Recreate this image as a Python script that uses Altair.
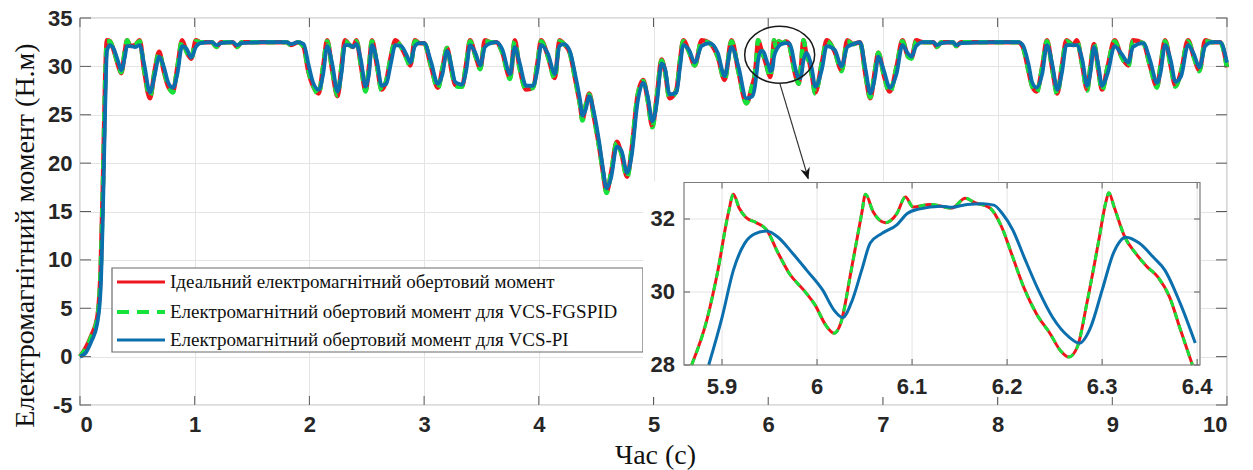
import altair as alt
import pandas as pd

# ---------------- data ----------------
t_main = [
    0.00, 0.05, 0.10, 0.15, 0.18, 0.20, 0.22, 0.235, 0.26, 0.29,
    0.33, 0.36, 0.39, 0.41, 0.44, 0.48, 0.52, 0.56, 0.61, 0.65,
    0.69, 0.73, 0.77, 0.81, 0.85, 0.89, 0.93, 0.97, 1.01, 1.05,
    1.15, 1.19, 1.23, 1.33, 1.37, 1.41, 1.60, 1.80, 1.84, 1.90,
    1.95, 1.99, 2.03, 2.08, 2.12, 2.155, 2.20, 2.245, 2.28, 2.31,
    2.35, 2.38, 2.41, 2.45, 2.49, 2.52, 2.545, 2.59, 2.63, 2.67,
    2.71, 2.75, 2.80, 2.85, 2.88, 2.92, 2.96, 3.00, 3.06, 3.12,
    3.16, 3.20, 3.24, 3.27, 3.30, 3.33, 3.37, 3.40, 3.45, 3.49,
    3.53, 3.58, 3.63, 3.68, 3.75, 3.79, 3.83, 3.89, 3.95, 3.99,
    4.02, 4.08, 4.14, 4.18, 4.22, 4.27, 4.32, 4.36, 4.38, 4.41,
    4.44, 4.48, 4.53, 4.56, 4.59, 4.63, 4.68, 4.72, 4.77, 4.81,
    4.86, 4.91, 4.95, 4.99, 5.03, 5.07, 5.10, 5.14, 5.20, 5.23,
    5.26, 5.31, 5.36, 5.42, 5.49, 5.56, 5.62, 5.68, 5.74, 5.81,
    5.86, 5.884, 5.895, 5.912, 5.936, 5.959, 5.986, 6.009, 6.018, 6.036,
    6.051, 6.072, 6.093, 6.119, 6.156, 6.182, 6.206, 6.231, 6.256, 6.265,
    6.284, 6.307, 6.335, 6.359, 6.382, 6.41, 6.47, 6.51, 6.58, 6.64,
    6.69, 6.74, 6.80, 6.85, 6.89, 6.93, 6.96, 7.01, 7.06, 7.12,
    7.17, 7.22, 7.25, 7.29, 7.35, 7.44, 7.47, 7.51, 7.61, 7.64,
    7.68, 8.00, 8.18, 8.22, 8.27, 8.30, 8.34, 8.39, 8.43, 8.48,
    8.52, 8.56, 8.60, 8.66, 8.69, 8.74, 8.78, 8.81, 8.84, 8.88,
    8.91, 8.96, 9.02, 9.08, 9.14, 9.18, 9.27, 9.33, 9.39, 9.42,
    9.46, 9.51, 9.55, 9.60, 9.66, 9.71, 9.76, 9.81, 9.87, 9.94,
    10.0,
]
ideal_main = [
    0.0, 0.9, 2.2, 4.0, 9.0, 18.0, 29.0, 32.7, 32.6, 31.8,
    30.2, 29.3, 31.5, 32.7, 32.1, 32.2, 32.7, 29.5, 26.7, 29.5,
    31.5, 29.5, 27.9, 27.4, 30.0, 32.7, 31.5, 30.8, 32.7, 32.5,
    32.5, 32.0, 32.5, 32.5, 32.0, 32.5, 32.5, 32.5, 32.2, 32.5,
    32.0, 29.5, 28.0, 27.2, 30.0, 32.7, 29.5, 26.9, 30.0, 32.7,
    32.2, 32.0, 32.7, 30.0, 27.5, 30.0, 32.7, 30.0, 27.6, 28.5,
    31.0, 32.7, 32.0, 30.8, 30.1, 32.7, 32.4, 32.4, 30.0, 27.8,
    29.8, 31.9, 29.5, 28.1, 28.0, 27.9, 30.5, 32.7, 31.0, 29.8,
    32.7, 32.5, 32.5, 31.5, 28.8, 32.7, 30.0, 27.6, 27.8, 30.5,
    32.7, 31.0, 28.8, 32.7, 32.3, 31.4, 28.5, 26.0, 24.5, 26.0,
    27.2, 24.8, 21.4, 19.0, 17.0, 19.0, 22.2, 21.0, 18.6, 21.5,
    26.9, 28.6, 26.5, 23.8, 27.0, 30.7, 29.5, 26.7, 27.6, 30.5,
    32.7, 31.5, 30.1, 32.7, 32.4, 31.0, 28.6, 32.7, 29.5, 26.2,
    28.0, 29.2, 30.5, 32.7, 31.9, 31.1, 30.05, 29.1, 28.9, 30.6,
    32.7, 31.9, 32.6, 32.4, 32.57, 32.3, 30.95, 29.4, 28.4, 28.2,
    29.7, 32.7, 31.1, 30.4, 29.0, 27.3, 30.5, 32.7, 31.5, 29.6,
    32.7, 32.3, 32.5, 29.0, 26.7, 29.5, 31.4, 29.0, 27.4, 30.0,
    32.7, 31.0, 30.9, 32.7, 32.5, 32.5, 32.0, 32.5, 32.5, 32.1,
    32.5, 32.5, 32.5, 32.0, 29.5, 28.0, 27.4, 30.0, 32.7, 29.5,
    27.2, 30.0, 32.7, 32.2, 32.7, 30.0, 27.6, 30.0, 32.3, 29.5,
    27.6, 30.0, 32.7, 31.0, 30.1, 32.7, 32.4, 30.0, 27.9, 30.0,
    32.7, 30.0, 28.0, 29.5, 32.7, 31.0, 29.6, 32.7, 32.5, 32.5,
    29.9,
]
fgspid_main = [
    0.0, 0.8, 2.1, 3.9, 8.8, 17.6, 28.6, 32.6, 32.6, 31.8,
    30.3, 29.4, 31.5, 32.7, 32.1, 32.2, 32.6, 29.6, 26.9, 29.4,
    31.4, 29.6, 28.0, 27.3, 30.0, 32.6, 31.5, 30.8, 32.6, 32.5,
    32.5, 32.0, 32.5, 32.5, 32.0, 32.5, 32.5, 32.5, 32.2, 32.5,
    32.0, 29.6, 28.1, 27.1, 30.0, 32.6, 29.6, 27.0, 30.0, 32.6,
    32.2, 32.0, 32.6, 30.1, 27.4, 30.0, 32.6, 30.1, 27.5, 28.5,
    31.0, 32.6, 32.0, 30.7, 30.0, 32.6, 32.4, 32.4, 30.1, 27.7,
    29.8, 31.9, 29.6, 28.0, 27.9, 27.9, 30.5, 32.6, 31.0, 29.7,
    32.6, 32.5, 32.5, 31.5, 28.7, 32.6, 30.0, 27.6, 27.8, 30.5,
    32.6, 31.0, 28.7, 32.6, 32.3, 31.4, 28.5, 26.0, 24.4, 26.0,
    27.1, 24.8, 21.4, 19.0, 16.9, 19.0, 22.1, 21.0, 18.5, 21.5,
    26.9, 28.5, 26.5, 23.7, 27.0, 30.6, 29.5, 26.7, 27.5, 30.5,
    32.6, 31.5, 30.1, 32.6, 32.4, 31.0, 28.6, 32.6, 29.5, 26.2,
    28.0, 29.2, 30.5, 32.7, 31.9, 31.1, 30.05, 29.1, 28.9, 30.6,
    32.7, 31.9, 32.6, 32.4, 32.57, 32.3, 30.95, 29.4, 28.4, 28.2,
    29.7, 32.7, 31.1, 30.4, 29.0, 27.2, 30.5, 32.6, 31.5, 29.5,
    32.6, 32.3, 32.5, 29.0, 26.8, 29.5, 31.4, 29.0, 27.3, 30.0,
    32.6, 31.0, 30.8, 32.6, 32.5, 32.5, 32.0, 32.5, 32.5, 32.1,
    32.5, 32.5, 32.5, 32.0, 29.5, 28.0, 27.3, 30.0, 32.6, 29.5,
    27.1, 30.0, 32.6, 32.2, 32.6, 30.0, 27.5, 30.0, 32.3, 29.5,
    27.5, 30.0, 32.6, 31.0, 30.0, 32.6, 32.4, 30.0, 27.8, 30.0,
    32.6, 30.0, 27.9, 29.5, 32.6, 31.0, 29.5, 32.6, 32.5, 32.5,
    29.8,
]
pi_main = [
    0.0, 0.4, 1.6, 3.4, 7.0, 15.0, 26.0, 31.6, 32.2, 31.9,
    30.6, 29.6, 30.9, 32.1, 32.1, 32.0, 32.2, 30.2, 27.3, 29.0,
    31.0, 30.0, 28.3, 27.8, 29.3, 32.1, 31.8, 30.9, 32.0, 32.4,
    32.5, 32.2, 32.4, 32.5, 32.2, 32.4, 32.5, 32.5, 32.3, 32.5,
    32.3, 30.3, 28.4, 27.6, 29.2, 32.1, 30.2, 27.4, 29.3, 32.2,
    32.2, 32.0, 32.3, 30.6, 27.9, 29.3, 32.2, 30.5, 28.0, 28.2,
    30.3, 32.2, 32.1, 31.1, 30.4, 32.1, 32.4, 32.4, 30.5, 28.2,
    29.2, 31.6, 30.0, 28.4, 28.2, 28.1, 29.8, 32.2, 31.3, 30.1,
    32.0, 32.4, 32.5, 31.8, 29.2, 32.0, 30.5, 28.0, 28.0, 29.8,
    32.2, 31.3, 29.2, 32.1, 32.3, 31.6, 29.0, 26.5, 24.9, 25.6,
    26.9, 25.3, 21.9, 19.4, 17.4, 18.5, 21.7, 21.3, 19.0, 20.8,
    26.2, 28.3, 26.9, 24.3, 26.3, 30.3, 29.8, 27.1, 27.3, 29.8,
    32.2, 31.7, 30.4, 32.1, 32.4, 31.4, 29.0, 32.0, 30.0, 26.7,
    26.9, 27.9, 28.9, 30.6, 31.6, 31.5, 30.6, 29.9, 29.5, 29.7,
    31.0, 31.7, 32.1, 32.33, 32.4, 32.4, 31.7, 30.1, 29.0, 28.77,
    28.8, 30.6, 31.4, 30.8, 29.7, 27.9, 29.8, 32.1, 31.7, 30.0,
    32.0, 32.3, 32.5, 29.6, 27.2, 28.8, 31.0, 29.5, 27.8, 29.3,
    32.2, 31.3, 31.0, 32.1, 32.5, 32.5, 32.2, 32.4, 32.5, 32.2,
    32.4, 32.5, 32.5, 32.2, 30.2, 28.4, 27.8, 29.3, 32.2, 30.0,
    27.6, 29.3, 32.2, 32.2, 32.2, 30.6, 28.0, 29.4, 32.0, 30.0,
    28.0, 29.3, 32.1, 31.3, 30.4, 32.0, 32.4, 30.6, 28.3, 29.3,
    32.2, 30.6, 28.4, 29.0, 32.2, 31.3, 29.9, 32.1, 32.5, 32.5,
    30.4,
]

# zoomed window 5.86 .. 6.40 s
t_zoom = [
    5.868, 5.884, 5.895, 5.907, 5.912, 5.918, 5.925, 5.936, 5.947, 5.959,
    5.971, 5.986, 5.998, 6.009, 6.018, 6.025, 6.036, 6.047, 6.051, 6.059,
    6.072, 6.084, 6.093, 6.101, 6.119, 6.142, 6.156, 6.166, 6.182, 6.194,
    6.206, 6.218, 6.231, 6.245, 6.256, 6.265, 6.274, 6.284, 6.296, 6.304,
    6.307, 6.313, 6.324, 6.335, 6.347, 6.359, 6.371, 6.382, 6.395,
]
ideal_zoom = [
    28.0, 29.23, 30.5, 32.2, 32.68, 32.3, 32.05, 31.9, 31.7, 31.07,
    30.5, 30.05, 29.64, 29.1, 28.87, 29.15, 30.6, 32.15, 32.68, 32.2,
    31.9, 32.15, 32.6, 32.33, 32.4, 32.3, 32.57, 32.45, 32.3, 31.8,
    30.95, 30.1, 29.4, 28.87, 28.4, 28.22, 28.5, 29.7, 31.34, 32.47,
    32.72, 32.3, 31.5, 31.07, 30.7, 30.4, 29.86, 29.0, 28.0,
]
fgspid_zoom = [
    28.0, 29.23, 30.5, 32.2, 32.68, 32.3, 32.05, 31.9, 31.7, 31.07,
    30.5, 30.05, 29.64, 29.1, 28.87, 29.15, 30.6, 32.15, 32.68, 32.2,
    31.9, 32.15, 32.6, 32.33, 32.4, 32.3, 32.57, 32.45, 32.3, 31.8,
    30.95, 30.1, 29.4, 28.87, 28.4, 28.22, 28.5, 29.7, 31.34, 32.47,
    32.72, 32.3, 31.5, 31.07, 30.7, 30.4, 29.86, 29.0, 28.0,
]
t_zoom_pi = [
    5.886, 5.900, 5.912, 5.924, 5.935, 5.947, 5.959, 5.974, 5.989, 6.006,
    6.018, 6.027, 6.036, 6.047, 6.056, 6.068, 6.084, 6.095, 6.107, 6.131,
    6.142, 6.158, 6.174, 6.186, 6.195, 6.206, 6.218, 6.233, 6.248, 6.265,
    6.276, 6.288, 6.300, 6.312, 6.325, 6.339, 6.354, 6.366, 6.382, 6.398,
]
pi_zoom = [
    28.0, 29.3, 30.6, 31.34, 31.6, 31.67, 31.5, 31.07, 30.6, 30.05,
    29.5, 29.3, 29.7, 30.6, 31.34, 31.6, 31.84, 32.15, 32.27, 32.35,
    32.32, 32.4, 32.42, 32.38, 32.15, 31.7, 30.95, 30.05, 29.3, 28.77,
    28.6, 29.04, 30.05, 31.07, 31.5, 31.34, 30.95, 30.6, 29.7, 28.6,
]

x_ticks = [0, 1, 2, 3, 4, 5, 6, 7, 8, 9, 10]
y_ticks = [-5, 0, 5, 10, 15, 20, 25, 30, 35]
zoom_x_ticks = [5.9, 6.0, 6.1, 6.2, 6.3, 6.4]
zoom_x_labels = ["5.9", "6", "6.1", "6.2", "6.3", "6.4"]
zoom_y_ticks = [28, 30, 32]
zoom_y_labels = ["28", "30", "32"]
zoom_domain_t = [5.86, 6.403]
zoom_domain_v = [28, 33]

series_names = [
    "Ідеальний електромагнітний обертовий момент",
    "Електромагнітний обертовий момент для VCS-FGSPID",
    "Електромагнітний обертовий момент для VCS-PI",
]
series_colors = ["#f0161e", "#17e23a", "#0b6fae"]

x_title = "Час (с)"
y_title = "Електромагнітний момент (Н.м)"

# ---------------- layout ----------------
W, H = 1147, 387
PAD = {"left": 80, "top": 18, "right": 26, "bottom": 65}
LABEL_FONT = "Liberation Sans"
SERIF = "Liberation Serif"
LABEL_COLOR = "#262626"
GRID = "#e4e4e4"
TICK = "#5a5a5a"

xs = alt.Scale(domain=[0, 10], nice=False, zero=False)
ys = alt.Scale(domain=[-5, 35], nice=False, zero=False)

x_axis = alt.Axis(
    values=x_ticks, labelExpr="'' + datum.value", grid=True, gridColor=GRID, gridWidth=1,
    ticks=False, domain=False, labelFont=LABEL_FONT, labelFontWeight="bold",
    labelFontSize=22, labelColor=LABEL_COLOR, labelPadding=9,
    title=x_title, titleFont=SERIF, titleFontSize=28, titleFontWeight="normal",
    titleColor="#111111", titleX=575, titleY=50, titleAlign="center",
    titleBaseline="middle",
)
y_axis = alt.Axis(
    values=y_ticks, labelExpr="'' + datum.value", grid=True, gridColor=GRID, gridWidth=1,
    ticks=False, domain=False, labelFont=LABEL_FONT, labelFontWeight="bold",
    labelFontSize=22, labelColor=LABEL_COLOR, labelPadding=8,
    title=y_title, titleFont=SERIF, titleFontSize=28, titleFontWeight="normal",
    titleColor="#111111", titleX=-55, titleY=217, titleAngle=270,
    titleAlign="center", titleBaseline="middle",
)

X = lambda f="t": alt.X(f"{f}:Q", scale=xs, axis=x_axis)
Y = lambda f="v": alt.Y(f"{f}:Q", scale=ys, axis=y_axis)

df_ideal = pd.DataFrame({"t": t_main, "v": ideal_main})
df_fgs = pd.DataFrame({"t": t_main, "v": fgspid_main})
df_pi = pd.DataFrame({"t": t_main, "v": pi_main})

main_red = alt.Chart(df_ideal).mark_line(
    color=series_colors[0], strokeWidth=4.5, interpolate="monotone"
).encode(x=X(), y=Y())
main_green = alt.Chart(df_fgs).mark_line(
    color=series_colors[1], strokeWidth=4.5, strokeDash=[9, 7], interpolate="monotone"
).encode(x=X(), y=Y())
main_blue = alt.Chart(df_pi).mark_line(
    color=series_colors[2], strokeWidth=3.8, interpolate="monotone"
).encode(x=X(), y=Y())

# inward ticks (MATLAB style box)
df_xt = pd.DataFrame({"t": x_ticks})
df_yt = pd.DataFrame({"v": y_ticks})
tick_bottom = alt.Chart(df_xt).mark_rule(color=TICK, strokeWidth=1).encode(
    x=X(), y=alt.value(H), y2=alt.value(H - 9))
tick_top = alt.Chart(df_xt).mark_rule(color=TICK, strokeWidth=1).encode(
    x=X(), y=alt.value(0), y2=alt.value(9))
tick_left = alt.Chart(df_yt).mark_rule(color=TICK, strokeWidth=1).encode(
    y=Y(), x=alt.value(0), x2=alt.value(11))
tick_right = alt.Chart(df_yt).mark_rule(color=TICK, strokeWidth=1).encode(
    y=Y(), x=alt.value(W), x2=alt.value(W - 11))

# annotation: ellipse + arrow
ELLIPSE = ("M 1 0 C 1 0.4497 0.5523 0.8143 0 0.8143 C -0.5523 0.8143 -1 0.4497 -1 0 "
           "C -1 -0.4497 -0.5523 -0.8143 0 -0.8143 C 0.5523 -0.8143 1 -0.4497 1 0 Z")
ARROW = "M 0 0 L -0.65 -1.6 L 0 -1.1 L 0.65 -1.6 Z"
df_ell = pd.DataFrame({"t": [6.10], "v": [31.2]})
ellipse = alt.Chart(df_ell).mark_point(
    shape=ELLIPSE, size=4900, filled=False, color="#1a1a1a", strokeWidth=1.5, opacity=1
).encode(x=X(), y=Y())
df_arrow = pd.DataFrame({"t": [6.10], "v": [28.3], "t2": [6.35], "v2": [18.4]})
arrow_line = alt.Chart(df_arrow).mark_rule(color="#333333", strokeWidth=1.2).encode(
    x=X(), y=Y(), x2="t2:Q", y2="v2:Q")
df_head = pd.DataFrame({"t": [6.35], "v": [18.3]})
arrow_head = alt.Chart(df_head).mark_point(
    shape=ARROW, size=225, filled=True, color="#111111", angle=344, opacity=1
).encode(x=X(), y=Y())

# legend (drawn as a box, as in the reference)
LEG_X0, LEG_X1, LEG_Y0, LEG_Y1 = 32, 563, 250, 334
row_y = [264, 294, 322]
legend_box = alt.Chart(pd.DataFrame({"k": [0]})).mark_rect(
    fill="white", stroke="#6b6b6b", strokeWidth=1.2
).encode(x=alt.value(LEG_X0), x2=alt.value(LEG_X1), y=alt.value(LEG_Y0), y2=alt.value(LEG_Y1))
legend_layers = [legend_box]
for i, name in enumerate(series_names):
    dfl = pd.DataFrame({"label": [name]})
    kw = dict(color=series_colors[i], strokeWidth=3.2)
    if i == 1:
        kw["strokeDash"] = [12, 8]
        kw["strokeWidth"] = 4
    legend_layers.append(
        alt.Chart(dfl).mark_rule(**kw).encode(
            x=alt.value(37), x2=alt.value(85), y=alt.value(row_y[i]))
    )
    legend_layers.append(
        alt.Chart(dfl).mark_text(
            align="left", baseline="middle", font=SERIF, fontSize=19, color="#111111"
        ).encode(x=alt.value(90), y=alt.value(row_y[i]), text="label:N")
    )

main = alt.layer(
    main_red, main_green, main_blue,
    tick_bottom, tick_top, tick_left, tick_right,
    *legend_layers, ellipse, arrow_line, arrow_head,
)

# ---------------- inset (zoom) ----------------
ZX0, ZX1 = 604, 1120          # pixel range inside plot for the zoom axes
ZY0, ZY1 = 347, 164.5
zxs = alt.Scale(domain=zoom_domain_t, range=[ZX0, ZX1], nice=False, zero=False)
zys = alt.Scale(domain=zoom_domain_v, range=[ZY0, ZY1], nice=False, zero=False)
ZXe = lambda f="t": alt.X(f"{f}:Q", scale=zxs, axis=None)
ZYe = lambda f="v": alt.Y(f"{f}:Q", scale=zys, axis=None)

inset_bg = alt.Chart(pd.DataFrame({"k": [0]})).mark_rect(fill="white").encode(
    x=alt.value(563), x2=alt.value(ZX1 + 1), y=alt.value(ZY1 - 1), y2=alt.value(379))
df_frame = pd.DataFrame({"t": [zoom_domain_t[0]], "t2": [zoom_domain_t[1]],
                         "v": [zoom_domain_v[0]], "v2": [zoom_domain_v[1]]})
df_zxt = pd.DataFrame({"t": zoom_x_ticks, "label": zoom_x_labels,
                       "v": [zoom_domain_v[0]] * len(zoom_x_ticks),
                       "v2": [zoom_domain_v[1]] * len(zoom_x_ticks)})
df_zyt = pd.DataFrame({"v": zoom_y_ticks, "label": zoom_y_labels,
                       "t": [zoom_domain_t[0]] * len(zoom_y_ticks),
                       "t2": [zoom_domain_t[1]] * len(zoom_y_ticks)})
inset_vgrid = alt.Chart(df_zxt).mark_rule(color=GRID, strokeWidth=1).encode(
    x=ZXe(), y=ZYe(), y2="v2:Q")
inset_hgrid = alt.Chart(df_zyt).mark_rule(color=GRID, strokeWidth=1).encode(
    y=ZYe(), x=ZXe(), x2="t2:Q")
inset_tick_top = alt.Chart(df_zxt).mark_rule(color=TICK, strokeWidth=1).encode(
    x=ZXe(), y=alt.value(ZY1), y2=alt.value(ZY1 + 6))
inset_tick_bot = alt.Chart(df_zxt).mark_rule(color=TICK, strokeWidth=1).encode(
    x=ZXe(), y=alt.value(ZY0), y2=alt.value(ZY0 - 6))
inset_tick_l = alt.Chart(df_zyt).mark_rule(color=TICK, strokeWidth=1).encode(
    y=ZYe(), x=alt.value(ZX0), x2=alt.value(ZX0 + 6))
inset_tick_r = alt.Chart(df_zyt).mark_rule(color=TICK, strokeWidth=1).encode(
    y=ZYe(), x=alt.value(ZX1), x2=alt.value(ZX1 - 6))
inset_frame = alt.Chart(df_frame).mark_rect(
    fill=None, stroke="#7a7a7a", strokeWidth=1.2
).encode(x=ZXe(), x2="t2:Q", y=ZYe(), y2="v2:Q")

dz_ideal = pd.DataFrame({"t": t_zoom, "v": ideal_zoom})
dz_fgs = pd.DataFrame({"t": t_zoom, "v": fgspid_zoom})
dz_pi = pd.DataFrame({"t": t_zoom_pi, "v": pi_zoom})
inset_red = alt.Chart(dz_ideal).mark_line(
    color=series_colors[0], strokeWidth=3, interpolate="monotone"
).encode(x=ZXe(), y=ZYe())
inset_green = alt.Chart(dz_fgs).mark_line(
    color=series_colors[1], strokeWidth=3, strokeDash=[7, 6], interpolate="monotone"
).encode(x=ZXe(), y=ZYe())
inset_blue = alt.Chart(dz_pi).mark_line(
    color=series_colors[2], strokeWidth=3, interpolate="monotone"
).encode(x=ZXe(), y=ZYe())

inset_xlabels = alt.Chart(df_zxt).mark_text(
    align="center", baseline="middle", font=LABEL_FONT, fontWeight="bold",
    fontSize=22, color=LABEL_COLOR
).encode(x=ZXe(), y=alt.value(369), text="label:N")
inset_ylabels = alt.Chart(df_zyt).mark_text(
    align="right", baseline="middle", font=LABEL_FONT, fontWeight="bold",
    fontSize=22, color=LABEL_COLOR
).encode(y=ZYe(), x=alt.value(595), text="label:N")

inset = alt.layer(
    inset_bg, inset_vgrid, inset_hgrid,
    inset_red, inset_green, inset_blue,
    inset_tick_top, inset_tick_bot, inset_tick_l, inset_tick_r,
    inset_frame, inset_xlabels, inset_ylabels,
)

chart = alt.layer(main, inset).resolve_scale(
    x="independent", y="independent"
).properties(
    width=W, height=H,
    autosize=alt.AutoSizeParams(type="none"),
    padding=PAD,
    background="white",
).configure_view(stroke="#7a7a7a", strokeWidth=1.2)

chart.save("out.html", embed_options={"renderer": "svg", "actions": False})
